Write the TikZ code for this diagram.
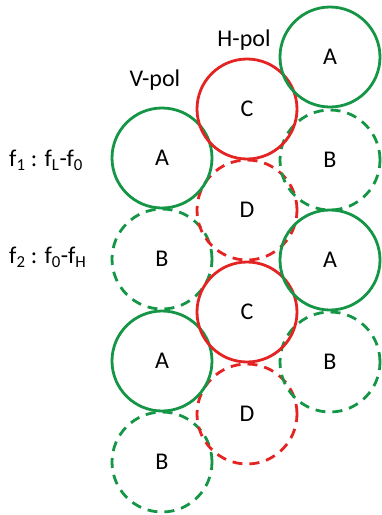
\documentclass[tikz,border=0pt]{standalone}
\usepackage{fontspec}
\setmainfont{Carlito}
\definecolor{cgreen}{RGB}{20,150,70}
\definecolor{cred}{RGB}{228,35,35}
\begin{document}
\begin{tikzpicture}[x=1pt,y=1pt,
  cell/.style={circle,minimum size=100pt,inner sep=0pt,line width=2.8pt,font=\fontsize{24}{26}\selectfont},
  solidA/.style={cell,draw=cgreen},
  dashB/.style={cell,draw=cgreen,dash pattern=on 10pt off 7pt},
  solidC/.style={cell,draw=cred},
  dashD/.style={cell,draw=cred,dash pattern=on 10pt off 7pt},
  lbl/.style={font=\fontsize{24}{26}\selectfont,inner sep=0pt}]
\useasboundingbox (0,0) rectangle (381,-515);
% dashed first
\node[dashB] (lB1) at (162,-259) {B};
\node[dashB] (lB2) at (162,-462) {B};
\node[dashD] (mD1) at (247,-210) {D};
\node[dashD] (mD2) at (247,-414) {D};
\node[dashB] (rB1) at (330,-160) {B};
\node[dashB] (rB2) at (330,-362) {B};
% solid
\node[solidA] (lA1) at (162,-158) {A};
\node[solidA] (lA2) at (162,-361) {A};
\node[solidC] (mC1) at (247,-109) {C};
\node[solidC] (mC2) at (247,-312) {C};
\node[solidA] (rA1) at (330,-57) {A};
\node[solidA] (rA2) at (330,-260) {A};
% labels
\node[lbl] (vpol) at (155,-80) {V-pol};
\node[lbl] (hpol) at (244,-40) {H-pol};
\node[lbl,anchor=west] (f1) at (9,-160) {f\textsubscript{1} : f\textsubscript{L}-f\textsubscript{0}};
\node[lbl,anchor=west] (f2) at (9,-257) {f\textsubscript{2} : f\textsubscript{0}-f\textsubscript{H}};
\end{tikzpicture}
\end{document}
